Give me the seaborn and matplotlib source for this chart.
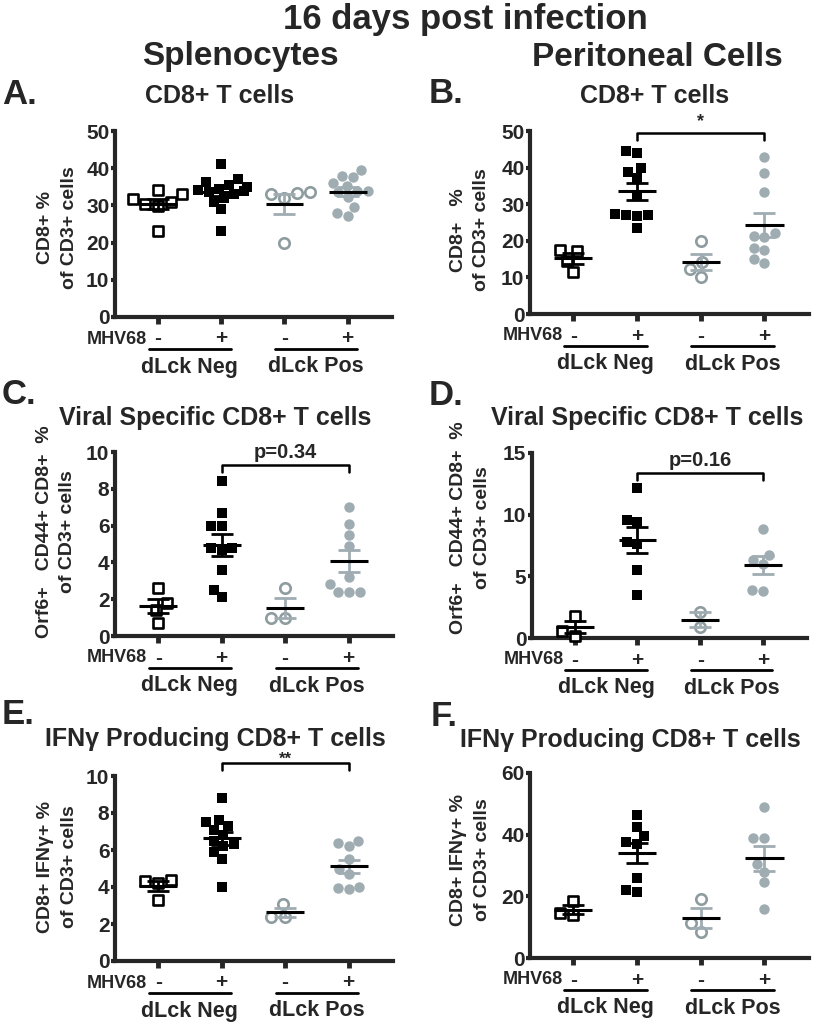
import numpy as np
import pandas as pd
import matplotlib
matplotlib.use("Agg")
import matplotlib.pyplot as plt
import matplotlib.transforms as mtransforms
import seaborn as sns

# groups: dLck Neg (-/+ MHV68) and dLck Pos (-/+ MHV68)
groups = ["neg_mock", "neg_mhv68", "pos_mock", "pos_mhv68"]
mhv68_labels = ["-", "+", "-", "+"]
genotype_labels = ["dLck Neg", "dLck Pos"]

# A. splenocytes, CD8+ % of CD3+
spl_cd8 = [
    [33, 34.2, 31.8, 31, 30.5, 29.8, 23.2],
    [41, 37, 36.2, 35.5, 35, 34.5, 34.2, 34, 33.5, 33, 32, 31, 29, 23.2],
    [33.6, 33.4, 33.0, 32.0, 19.8],
    [39.4, 38, 37.6, 36, 35.2, 34, 33.8, 33.5, 32.2, 29.5, 28, 27.2],
]
# B. peritoneal cells, CD8+ % of CD3+
per_cd8 = [
    [17.6, 17.2, 14.6, 11.4],
    [44.6, 44.0, 39.8, 38.8, 37.2, 32.2, 27.4, 27.0, 27.0, 26.8, 23.4],
    [20.0, 14.2, 12.4, 10.2],
    [42.8, 38.4, 33.2, 22.0, 21.4, 21.0, 18.0, 17.4, 15.0, 13.8],
]
# C. splenocytes, Orf6+ CD44+ CD8+ % of CD3+
spl_orf6 = [
    [2.6, 1.8, 1.4, 0.7],
    [8.4, 6.7, 6.0, 6.0, 4.8, 4.8, 4.7, 3.6, 2.5, 2.1],
    [2.6, 1.0, 1.0],
    [7.0, 6.1, 5.5, 4.9, 3.2, 2.8, 2.4, 2.4, 2.4],
]
# D. peritoneal cells, Orf6+ CD44+ CD8+ % of CD3+
per_orf6 = [
    [1.8, 0.6, 0.2],
    [12.2, 9.6, 9.4, 7.8, 7.6, 5.5, 3.5],
    [2.1, 0.9],
    [8.8, 6.7, 6.3, 6.0, 3.9, 3.8],
]
# E. splenocytes, CD8+ IFNg+ % of CD3+
spl_ifng = [
    [4.4, 4.3, 4.2, 3.3],
    [8.8, 7.6, 7.5, 7.3, 7.1, 6.8, 6.5, 6.3, 6.2, 5.9, 5.5, 4.0],
    [3.1, 2.4, 2.4],
    [6.5, 6.4, 6.2, 5.5, 5.0, 4.7, 4.0, 3.95, 3.9],
]
# F. peritoneal cells, CD8+ IFNg+ % of CD3+
per_ifng = [
    [18.5, 14.5, 14.0],
    [46.5, 42.5, 39.5, 37.5, 37.0, 26.0, 22.0, 21.5],
    [19.0, 11.5, 8.5],
    [49.0, 39.0, 39.0, 30.5, 28.0, 24.5, 16.0],
]

sns.set_style("ticks")
plt.rcParams["font.family"] = ["Liberation Sans", "DejaVu Sans"]
plt.rcParams["font.weight"] = "bold"
plt.rcParams["axes.labelweight"] = "bold"

W, H = 825, 1026
fig = plt.figure(figsize=(W / 100, H / 100), dpi=100)


def px(x, y):
    return x / W, 1 - y / H


GREY = "#9fadb2"
GREY_EDGE = "#8e9c9f"
markers = ["s", "s", "o", "o"]
faces = ["white", "black", "white", GREY]
edges = ["black", "black", GREY_EDGE, GREY]
lws = [1.9, 0, 1.9, 0]
bar_colors = ["black", "black", GREY, GREY]


def draw_panel(rect, vals, ymax, ystep, ylabel, label_xy, sig=None):
    l, t, r, b = rect
    ax = fig.add_axes([l / W, 1 - b / H, (r - l) / W, (b - t) / H])
    for i, g in enumerate(groups):
        df = pd.DataFrame({"group": g, "value": vals[i]})
        sns.swarmplot(data=df, x="group", y="value", order=groups, ax=ax,
                      marker=markers[i], color=faces[i], edgecolor=edges[i],
                      linewidth=lws[i], size=7.5, clip_on=False, zorder=3)
        v = np.array(vals[i])
        m = v.mean()
        sem = v.std(ddof=1) / np.sqrt(len(v))
        ax.errorbar(i, m, yerr=sem, color=bar_colors[i], lw=2, capsize=8,
                    capthick=2, zorder=4, clip_on=False)
        ax.hlines(m, i - 0.3, i + 0.3, color="black", lw=2.2, zorder=5)

    ax.set_xlim(-0.68, 3.7)
    ax.set_ylim(0, ymax)
    ax.set_yticks(np.arange(0, ymax + 0.1, ystep))
    ax.set_xticks(range(4))
    ax.set_xticklabels([])
    ax.set_xlabel("")
    ax.set_ylabel(ylabel, fontsize=14, linespacing=1.5)
    ax.yaxis.set_label_coords(*label_xy)
    sns.despine(ax=ax)
    for s in ["left", "bottom"]:
        ax.spines[s].set_linewidth(3)
    ax.tick_params(axis="y", width=3, length=3, pad=1, labelsize=15)
    ax.tick_params(axis="x", width=3.5, length=5)
    for lab in ax.get_yticklabels():
        lab.set_fontweight("bold")

    # MHV68 row, underlines and genotype labels below the axis
    blend = mtransforms.blended_transform_factory(ax.transData, ax.transAxes)
    row = mtransforms.offset_copy(blend, fig=fig, y=-22, units="dots")
    line = mtransforms.offset_copy(blend, fig=fig, y=-32, units="dots")
    geno = mtransforms.offset_copy(blend, fig=fig, y=-50, units="dots")
    ax.text(-0.17, 0, "MHV68", transform=row, ha="right", va="center",
            fontsize=13, fontweight="bold")
    for i, s in enumerate(mhv68_labels):
        ax.text(i, 0, s, transform=row, ha="center", va="center",
                fontsize=15, fontweight="bold")
    for k, name in enumerate(genotype_labels):
        x0 = 2 * k
        ax.plot([x0 - 0.15, x0 + 1.15], [0, 0], transform=line,
                color="black", lw=2, clip_on=False)
        ax.text(x0 + 0.5, 0, name, transform=geno, ha="center", va="center",
                fontsize=15.5, fontweight="bold")

    if sig is not None:
        y_bar, y_drop, txt, y_txt, va, fs = sig
        ax.plot([1, 1, 3, 3], [y_drop, y_bar, y_bar, y_drop], color="black",
                lw=1.8, clip_on=False)
        ax.text(2, y_txt, txt, ha="center", va=va, fontsize=fs,
                fontweight="bold", clip_on=False)
    return ax


draw_panel((115, 131, 392, 317), spl_cd8, 50, 10, "CD8+ %\nof CD3+ cells",
           (-0.134, 0.48))
draw_panel((530, 131, 809, 314), per_cd8, 50, 10, "CD8+   %\nof CD3+ cells",
           (-0.143, 0.46), sig=(49.5, 47.5, "*", 50.2, "bottom", 13))
draw_panel((115, 452, 393, 636), spl_orf6, 10, 2,
           "Orf6+   CD44+ CD8+  %\nof CD3+ cells", (-0.14, 0.565),
           sig=(9.3, 8.9, "p=0.34", 9.95, "center", 14.5))
draw_panel((532, 453, 807, 638), per_orf6, 15, 5,
           "Orf6+   CD44+ CD8+  %\nof CD3+ cells", (-0.15, 0.595),
           sig=(13.4, 12.8, "p=0.16", 14.4, "center", 14.5))
draw_panel((115, 776, 393, 961), spl_ifng, 10, 2,
           "CD8+ IFNγ+ %\nof CD3+ cells", (-0.134, 0.51),
           sig=(10.7, 10.3, "**", 11.3, "top", 12))
draw_panel((530, 773, 809, 958), per_ifng, 60, 20,
           "CD8+ IFNγ+ %\nof CD3+ cells", (-0.14, 0.53))

# headings
fig.text(*px(465, 20), "16 days post infection", ha="center", va="center",
         fontsize=25, fontweight="bold")
fig.text(*px(240, 57), "Splenocytes", ha="center", va="center",
         fontsize=24, fontweight="bold")
fig.text(*px(657, 57), "Peritoneal Cells", ha="center", va="center",
         fontsize=24, fontweight="bold")

# panel letters and titles
for letter, x, y in [("A.", 2, 95), ("B.", 429, 94), ("C.", 2, 394),
                     ("D.", 429, 395), ("E.", 2, 715), ("F.", 431, 717)]:
    fig.text(*px(x, y), letter, ha="left", va="center", fontsize=25,
             fontweight="bold")
for title, x, y in [("CD8+ T cells", 220, 96), ("CD8+ T cells", 655, 96),
                    ("Viral Specific CD8+ T cells", 215, 418),
                    ("Viral Specific CD8+ T cells", 647, 418),
                    ("IFNγ Producing CD8+ T cells", 215, 739),
                    ("IFNγ Producing CD8+ T cells", 630, 740)]:
    fig.text(*px(x, y), title, ha="center", va="center", fontsize=18,
             fontweight="bold")

fig.savefig("out.png", dpi=100)
